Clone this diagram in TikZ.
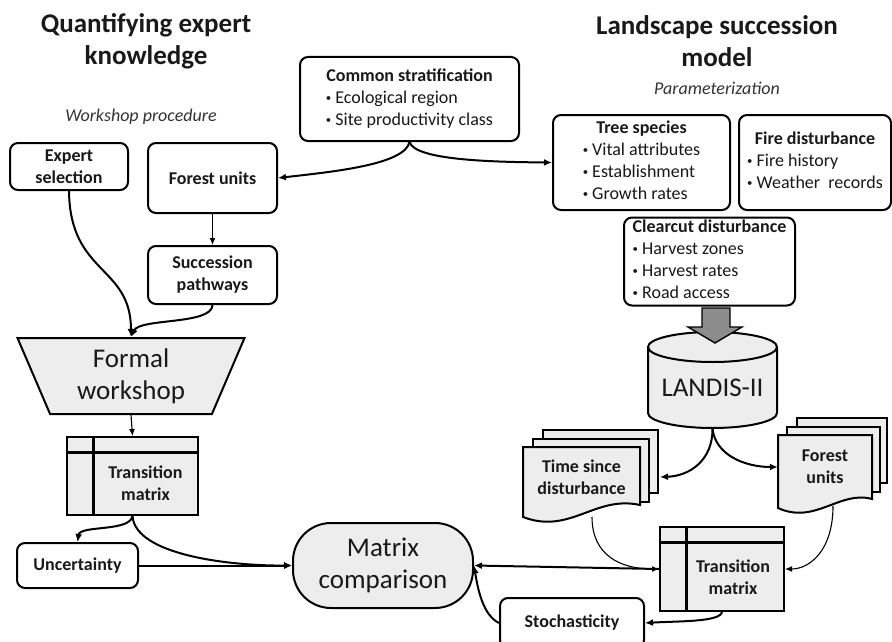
\documentclass[tikz,border=0pt]{standalone}
\usepackage{fontspec}
\setmainfont{Carlito}
\usetikzlibrary{shapes.geometric,arrows.meta,calc}

\newcommand{\boxsize}{\fontsize{18}{22}\selectfont}
\newcommand{\bigsize}{\fontsize{27}{32}\selectfont}
\newcommand{\bul}{\raisebox{0.25ex}{\scalebox{0.6}{\textbullet}}\ }
\newcommand{\listbox}[2]{\begin{tabular}{@{}l@{}}\multicolumn{1}{@{}c@{}}{\textbf{#1}}\\#2\end{tabular}}

\begin{document}
\begin{tikzpicture}[x=1pt, y=-1pt,
  every node/.style={font=\boxsize, text=black!90},
  title/.style={font=\bigsize\bfseries, align=center},
  sub/.style={font=\boxsize\itshape, text=black!80},
  rbox/.style={draw, rounded corners=8pt, line width=2pt, fill=white, align=center, inner sep=2pt},
  bbox/.style={rbox, font=\boxsize\bfseries},
  graybox/.style={draw, line width=2pt, fill=black!7},
  tmat/.style={graybox, path picture={
      \draw[line width=3pt] ([xshift=26pt]path picture bounding box.north west) -- ([xshift=26pt]path picture bounding box.south west);
      \draw[line width=3pt] ([yshift=-15pt]path picture bounding box.north west) -- ([yshift=-15pt]path picture bounding box.north east);}},
  conn/.style={line width=2pt, -{Latex[length=8pt,width=7pt]}},
  thin/.style={line width=1.1pt, -{Latex[length=7pt,width=6pt]}}]

\useasboundingbox (0,0) rectangle (892,642);

% ---- headings ----
\node[title] (qek) at (146,41) {Quantifying expert\\knowledge};
\node[title] (lsm) at (717,41) {Landscape succession\\model};
\node[sub] (wsp) at (141,117) {Workshop procedure};
\node[sub] (par) at (717,88) {Parameterization};

% ---- stratification and parameters ----
\node[rbox, minimum width=219pt, minimum height=84pt] (strat) at (409.5,99)
  {\listbox{Common stratification}{\bul Ecological region\\ \bul Site productivity class}};
\node[rbox, minimum width=177pt, minimum height=95pt] (tree) at (641.5,162.5)
  {\listbox{Tree species}{\bul Vital attributes\\ \bul Establishment\\ \bul Growth rates}};
\node[rbox, minimum width=152pt, minimum height=95pt] (fire) at (815,162.5)
  {\listbox{Fire disturbance}{\bul Fire history\\ \bul Weather\ \ records}};
\node[rbox, minimum width=171pt, minimum height=87pt, inner sep=0pt] (clear) at (709.5,261.5)
  {\listbox{Clearcut disturbance}{\bul Harvest zones\\ \bul Harvest rates\\ \bul Road access}};

% ---- workshop procedure ----
\node[bbox, minimum width=118pt, minimum height=47pt] (expert) at (69,166.5) {Expert\\selection};
\node[bbox, minimum width=129pt, minimum height=70pt] (forestL) at (212.5,178) {Forest units};
\node[bbox, minimum width=129pt, minimum height=58pt] (succ) at (212.5,275) {Succession\\pathways};
\node[graybox, trapezium, trapezium angle=59.4, shape border rotate=180, trapezium stretches body,
  minimum width=227pt, minimum height=76pt, inner sep=0pt, font=\bigsize, align=center] (workshop) at (131,376) {Formal\\workshop};
\node[tmat, minimum width=131pt, minimum height=78pt] (tmL) at (132.5,476) {};
\node[font=\boxsize\bfseries, align=center] (tmLtxt) at (145.5,483) {Transition\\matrix};
\node[bbox, minimum width=121pt, minimum height=45pt] (unc) at (77.5,565.5) {Uncertainty};

% ---- comparison ----
\node[graybox, rounded corners=38pt, minimum width=180pt, minimum height=85pt, font=\bigsize, align=center] (mcomp) at (383,565.5) {Matrix\\comparison};

% ---- LANDIS-II ----
\node[minimum width=129pt, minimum height=96pt] (landis) at (712.5,380) {};
\filldraw[graybox] (648,347) -- (648,413) arc[start angle=180, end angle=360, x radius=64.5pt, y radius=15pt]
  -- (777,347) arc[start angle=0, end angle=180, x radius=64.5pt, y radius=15pt] -- cycle;
\draw[line width=2pt] (648,347) arc[start angle=180, end angle=360, x radius=64.5pt, y radius=15pt];
\node[font=\bigsize] (landistxt) at (712.5,388) {LANDIS-II};
\filldraw[fill=black!45, line width=1.4pt] (702,308) -- (730,308) -- (730,327) -- (742,327) -- (715,343) -- (688,327) -- (702,327) -- cycle;

% ---- model output ----
\filldraw[graybox] (543,430) rectangle (658,493);
\filldraw[graybox] (533,439) rectangle (649,502);
\filldraw[graybox] (523,447) -- (640,447) -- (640,505) .. controls (595,495) and (570,535) .. (523,517) -- cycle;
\node[font=\boxsize\bfseries, align=center, minimum width=117pt, minimum height=60pt] (tsd) at (581.5,477) {Time since\\disturbance};
\coordinate (tsdedge) at (660,477);
\coordinate (tsdbot) at (592,517);

\filldraw[graybox] (797,418) rectangle (887,483);
\filldraw[graybox] (787,427) rectangle (880,492);
\filldraw[graybox] (778,435) -- (872,435) -- (872,499) .. controls (840,490) and (815,525) .. (778,508) -- cycle;
\node[font=\boxsize\bfseries, align=center, minimum width=94pt, minimum height=64pt] (fuR) at (825,467) {Forest\\units};
\coordinate (fubot) at (833,506);

\node[tmat, minimum width=124pt, minimum height=84pt] (tmR) at (722,569) {};
\node[font=\boxsize\bfseries, align=center] (tmRtxt) at (733,577) {Transition\\matrix};
\node[bbox, minimum width=144pt, minimum height=50pt] (stoch) at (572,623) {Stochasticity};

% ---- connectors ----
\draw[conn] (strat.south) .. controls (405,165) and (330,172) .. (forestL.east);
\draw[conn] (strat.south) .. controls (415,160) and (490,162) .. (tree.west);
\draw[thin] (forestL.south) -- (succ.north);
\draw[conn] (expert.south) .. controls (70,275) and (131,265) .. (workshop.north);
\draw[conn] (succ.south) .. controls (212,325) and (140,318) .. (workshop.north);
\draw[thin] (workshop.south) -- (tmL.north);
\draw[conn] (tmL.south) .. controls (130,532) and (80,525) .. (unc.north);
\draw[conn] (tmL.south) .. controls (135,555) and (230,566) .. (mcomp.west);
\draw[conn] (unc.east) -- (mcomp.west);

\draw[conn] (landis.south) .. controls (713,460) and (690,476) .. (tsdedge);
\draw[conn] (landis.south) .. controls (715,455) and (745,467) .. (fuR.west);
\draw[thin] (tsdbot) .. controls (592,555) and (620,569) .. (tmR.west);
\draw[thin] (fubot) .. controls (833,550) and (810,569) .. (tmR.east);
\draw[conn] (tmR.west) -- (mcomp.east);
\draw[conn] (tmR.south) .. controls (720,622) and (680,621) .. (stoch.east);
\draw[conn] (stoch.west) .. controls (483,615) and (478,590) .. (mcomp.east);

\end{tikzpicture}
\end{document}
